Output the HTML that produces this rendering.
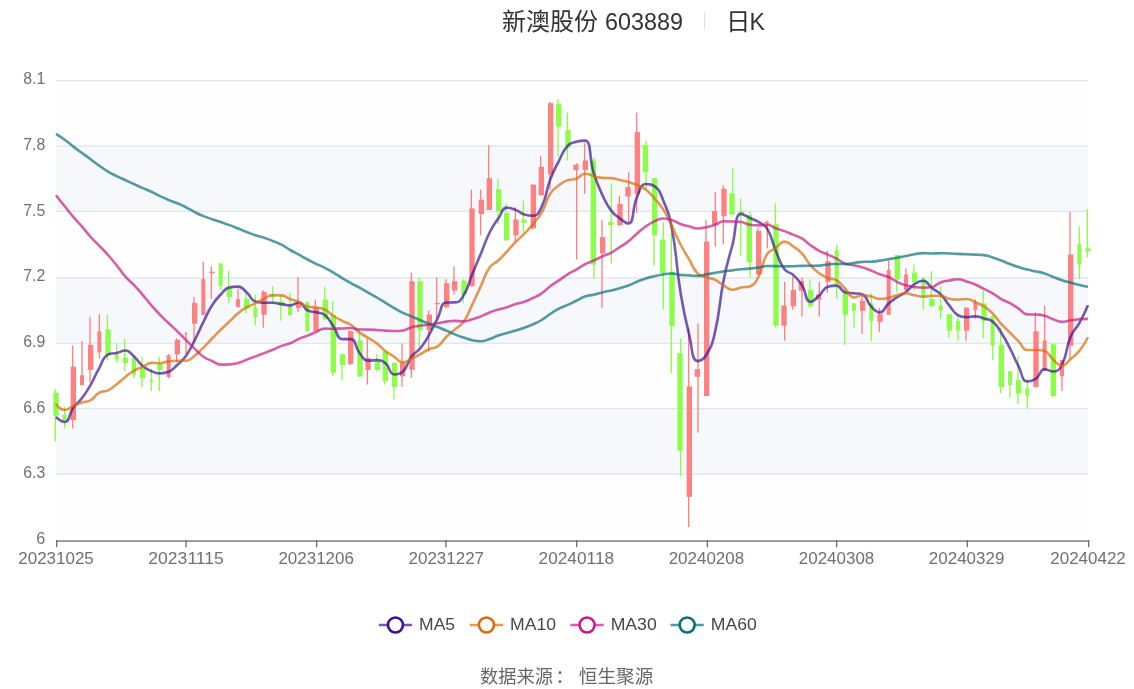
<!DOCTYPE html>
<html><head><meta charset="utf-8"><title>新澳股份 603889 日K</title>
<style>
html,body{margin:0;padding:0;background:#fff;}
body{width:1134px;height:689px;overflow:hidden;}
svg{display:block;will-change:transform;}
.ax{font-family:"Liberation Sans",Arial,sans-serif;font-size:16px;fill:#6e7079;}
.lg{font-family:"Liberation Sans",Arial,sans-serif;font-size:16.5px;fill:#464646;}
.tc{font-family:"Liberation Sans","Noto Sans CJK SC",sans-serif;font-size:24.4px;fill:#333;}
.td{font-family:"Liberation Sans",sans-serif;font-size:23.2px;fill:#333;}
.tt{font-family:"Liberation Sans","Noto Sans CJK SC",sans-serif;font-size:23px;fill:#333;}
.ft{font-family:"Liberation Sans","Noto Sans CJK SC",sans-serif;font-size:18px;fill:#666;}
</style></head><body>
<svg width="1134" height="689" viewBox="0 0 1134 689">
<rect width="1134" height="689" fill="#fff"/>
<rect x="56.000" y="474.286" width="1032.000" height="65.714" fill="rgba(250,250,250,0.2)"/>
<rect x="56.000" y="408.571" width="1032.000" height="65.714" fill="rgba(210,219,238,0.2)"/>
<rect x="56.000" y="342.857" width="1032.000" height="65.714" fill="rgba(250,250,250,0.2)"/>
<rect x="56.000" y="277.143" width="1032.000" height="65.714" fill="rgba(210,219,238,0.2)"/>
<rect x="56.000" y="211.429" width="1032.000" height="65.714" fill="rgba(250,250,250,0.2)"/>
<rect x="56.000" y="145.714" width="1032.000" height="65.714" fill="rgba(210,219,238,0.2)"/>
<rect x="56.000" y="80.000" width="1032.000" height="65.714" fill="rgba(250,250,250,0.2)"/>
<rect x="56.000" y="473.333" width="1032.000" height="1.333" fill="#e0e6f1"/>
<rect x="56.000" y="408.000" width="1032.000" height="1.333" fill="#e0e6f1"/>
<rect x="56.000" y="342.667" width="1032.000" height="1.333" fill="#e0e6f1"/>
<rect x="56.000" y="277.333" width="1032.000" height="1.333" fill="#e0e6f1"/>
<rect x="56.000" y="210.667" width="1032.000" height="1.333" fill="#e0e6f1"/>
<rect x="56.000" y="145.333" width="1032.000" height="1.333" fill="#e0e6f1"/>
<rect x="56.000" y="80.000" width="1032.000" height="1.333" fill="#e0e6f1"/>
<rect x="54.667" y="389.0" width="1.333" height="52.5" fill="#8cfe48"/>
<rect x="53.333" y="392.8" width="5.333" height="23.0" fill="#8cfe48"/>
<rect x="64.000" y="406.7" width="1.333" height="21.8" fill="#8cfe48"/>
<rect x="62.667" y="414.8" width="4.000" height="6.0" fill="#8cfe48"/>
<rect x="72.000" y="345.3" width="1.333" height="83.2" fill="#ff8080"/>
<rect x="70.667" y="366.7" width="5.333" height="53.5" fill="#ff8080"/>
<rect x="81.333" y="341.0" width="1.333" height="44.2" fill="#ff8080"/>
<rect x="80.000" y="375.2" width="4.000" height="10.0" fill="#ff8080"/>
<rect x="89.333" y="316.8" width="1.333" height="65.3" fill="#ff8080"/>
<rect x="88.000" y="344.8" width="5.333" height="25.0" fill="#ff8080"/>
<rect x="98.667" y="314.1" width="1.333" height="44.2" fill="#ff8080"/>
<rect x="97.333" y="331.4" width="4.000" height="20.8" fill="#ff8080"/>
<rect x="106.667" y="314.8" width="1.333" height="45.6" fill="#8cfe48"/>
<rect x="105.333" y="329.4" width="5.333" height="25.2" fill="#8cfe48"/>
<rect x="116.000" y="343.2" width="1.333" height="19.7" fill="#8cfe48"/>
<rect x="114.667" y="354.5" width="4.000" height="4.5" fill="#8cfe48"/>
<rect x="124.000" y="338.5" width="1.333" height="32.5" fill="#8cfe48"/>
<rect x="122.667" y="357.8" width="5.333" height="5.1" fill="#8cfe48"/>
<rect x="133.333" y="356.0" width="1.333" height="22.2" fill="#8cfe48"/>
<rect x="132.000" y="358.0" width="4.000" height="16.8" fill="#8cfe48"/>
<rect x="141.333" y="356.7" width="1.333" height="30.5" fill="#8cfe48"/>
<rect x="140.000" y="368.4" width="5.333" height="9.9" fill="#8cfe48"/>
<rect x="150.667" y="368.7" width="1.333" height="22.4" fill="#8cfe48"/>
<rect x="149.333" y="380.0" width="4.000" height="1.3" fill="#8cfe48"/>
<rect x="158.667" y="356.7" width="1.333" height="34.4" fill="#8cfe48"/>
<rect x="157.333" y="364.2" width="5.333" height="5.7" fill="#8cfe48"/>
<rect x="168.000" y="354.0" width="1.333" height="24.3" fill="#ff8080"/>
<rect x="166.667" y="355.2" width="4.000" height="21.8" fill="#ff8080"/>
<rect x="176.000" y="338.3" width="1.333" height="24.0" fill="#ff8080"/>
<rect x="174.667" y="339.8" width="5.333" height="14.6" fill="#ff8080"/>
<rect x="185.333" y="332.4" width="1.333" height="21.5" fill="#ff8080"/>
<rect x="184.800" y="332.6" width="2.4" height="1.6" fill="#ff8080"/>
<rect x="193.333" y="296.9" width="1.333" height="45.1" fill="#ff8080"/>
<rect x="192.000" y="302.9" width="5.333" height="20.8" fill="#ff8080"/>
<rect x="202.667" y="261.9" width="1.333" height="53.0" fill="#ff8080"/>
<rect x="201.333" y="279.0" width="4.000" height="35.9" fill="#ff8080"/>
<rect x="210.667" y="266.4" width="1.333" height="32.4" fill="#ff8080"/>
<rect x="209.333" y="271.7" width="5.333" height="1.5" fill="#ff8080"/>
<rect x="220.000" y="263.4" width="1.333" height="26.8" fill="#8cfe48"/>
<rect x="218.667" y="263.4" width="4.000" height="22.8" fill="#8cfe48"/>
<rect x="228.000" y="270.7" width="1.333" height="32.6" fill="#8cfe48"/>
<rect x="226.667" y="288.2" width="5.333" height="8.9" fill="#8cfe48"/>
<rect x="237.333" y="288.8" width="1.333" height="18.9" fill="#ff8080"/>
<rect x="236.000" y="299.0" width="4.000" height="8.0" fill="#ff8080"/>
<rect x="245.333" y="291.4" width="1.333" height="21.6" fill="#8cfe48"/>
<rect x="244.000" y="298.7" width="5.333" height="10.0" fill="#8cfe48"/>
<rect x="254.667" y="294.8" width="1.333" height="30.5" fill="#8cfe48"/>
<rect x="253.333" y="307.3" width="4.000" height="9.7" fill="#8cfe48"/>
<rect x="262.667" y="290.3" width="1.333" height="37.3" fill="#ff8080"/>
<rect x="261.333" y="291.8" width="5.333" height="23.0" fill="#ff8080"/>
<rect x="272.000" y="286.2" width="1.333" height="17.0" fill="#8cfe48"/>
<rect x="270.667" y="294.4" width="4.000" height="3.2" fill="#8cfe48"/>
<rect x="280.000" y="294.8" width="1.333" height="26.0" fill="#8cfe48"/>
<rect x="278.667" y="301.4" width="5.333" height="4.2" fill="#8cfe48"/>
<rect x="289.333" y="292.6" width="1.333" height="23.9" fill="#8cfe48"/>
<rect x="288.000" y="306.3" width="4.000" height="8.7" fill="#8cfe48"/>
<rect x="297.333" y="277.3" width="1.333" height="34.9" fill="#ff8080"/>
<rect x="296.000" y="302.5" width="5.333" height="5.4" fill="#ff8080"/>
<rect x="306.667" y="301.3" width="1.333" height="30.7" fill="#8cfe48"/>
<rect x="305.333" y="302.4" width="4.000" height="28.6" fill="#8cfe48"/>
<rect x="314.667" y="299.6" width="1.333" height="31.6" fill="#ff8080"/>
<rect x="313.333" y="307.6" width="5.333" height="23.6" fill="#ff8080"/>
<rect x="324.000" y="286.6" width="1.333" height="33.8" fill="#8cfe48"/>
<rect x="322.667" y="299.7" width="5.333" height="19.6" fill="#8cfe48"/>
<rect x="332.000" y="301.2" width="1.333" height="74.7" fill="#8cfe48"/>
<rect x="330.667" y="314.9" width="5.333" height="57.7" fill="#8cfe48"/>
<rect x="341.333" y="354.1" width="1.333" height="26.2" fill="#8cfe48"/>
<rect x="340.000" y="354.1" width="5.333" height="10.9" fill="#8cfe48"/>
<rect x="349.333" y="330.2" width="1.333" height="34.8" fill="#ff8080"/>
<rect x="348.000" y="331.3" width="5.333" height="32.6" fill="#ff8080"/>
<rect x="358.667" y="329.1" width="1.333" height="47.5" fill="#8cfe48"/>
<rect x="357.333" y="340.4" width="5.333" height="36.2" fill="#8cfe48"/>
<rect x="366.667" y="338.9" width="1.333" height="45.7" fill="#ff8080"/>
<rect x="365.333" y="357.8" width="5.333" height="12.2" fill="#ff8080"/>
<rect x="376.000" y="354.1" width="1.333" height="17.5" fill="#8cfe48"/>
<rect x="374.667" y="361.3" width="5.333" height="8.7" fill="#8cfe48"/>
<rect x="384.000" y="351.3" width="1.333" height="33.3" fill="#8cfe48"/>
<rect x="382.667" y="351.3" width="5.333" height="29.6" fill="#8cfe48"/>
<rect x="393.333" y="362.7" width="1.333" height="36.9" fill="#8cfe48"/>
<rect x="392.000" y="362.7" width="5.333" height="24.2" fill="#8cfe48"/>
<rect x="401.333" y="343.3" width="1.333" height="43.7" fill="#ff8080"/>
<rect x="400.000" y="362.6" width="5.333" height="13.7" fill="#ff8080"/>
<rect x="410.667" y="272.6" width="1.333" height="105.3" fill="#ff8080"/>
<rect x="409.333" y="281.3" width="5.333" height="88.5" fill="#ff8080"/>
<rect x="418.667" y="277.9" width="1.333" height="69.5" fill="#8cfe48"/>
<rect x="417.333" y="281.3" width="5.333" height="48.8" fill="#8cfe48"/>
<rect x="428.000" y="310.4" width="1.333" height="41.1" fill="#ff8080"/>
<rect x="426.667" y="314.5" width="5.333" height="15.6" fill="#ff8080"/>
<rect x="436.000" y="277.3" width="1.333" height="41.7" fill="#ff8080"/>
<rect x="434.667" y="303.0" width="5.333" height="1.3" fill="#ff8080"/>
<rect x="445.333" y="279.2" width="1.333" height="28.6" fill="#ff8080"/>
<rect x="444.000" y="283.3" width="5.333" height="23.9" fill="#ff8080"/>
<rect x="453.333" y="266.4" width="1.333" height="28.2" fill="#ff8080"/>
<rect x="452.000" y="281.2" width="5.333" height="9.3" fill="#ff8080"/>
<rect x="462.667" y="279.2" width="1.333" height="23.9" fill="#8cfe48"/>
<rect x="461.333" y="280.6" width="5.333" height="14.0" fill="#8cfe48"/>
<rect x="470.667" y="189.6" width="1.333" height="96.6" fill="#ff8080"/>
<rect x="469.333" y="208.5" width="5.333" height="77.7" fill="#ff8080"/>
<rect x="480.000" y="189.6" width="1.333" height="45.8" fill="#ff8080"/>
<rect x="478.667" y="199.8" width="5.333" height="14.2" fill="#ff8080"/>
<rect x="488.000" y="145.3" width="1.333" height="64.7" fill="#ff8080"/>
<rect x="486.667" y="178.2" width="5.333" height="31.8" fill="#ff8080"/>
<rect x="497.333" y="178.5" width="1.333" height="45.6" fill="#8cfe48"/>
<rect x="496.000" y="189.1" width="5.333" height="22.3" fill="#8cfe48"/>
<rect x="505.333" y="203.3" width="1.333" height="37.1" fill="#8cfe48"/>
<rect x="504.000" y="213.0" width="5.333" height="27.4" fill="#8cfe48"/>
<rect x="514.667" y="207.3" width="1.333" height="34.2" fill="#ff8080"/>
<rect x="513.333" y="219.5" width="5.333" height="15.9" fill="#ff8080"/>
<rect x="522.667" y="200.4" width="1.333" height="32.9" fill="#8cfe48"/>
<rect x="521.333" y="219.5" width="5.333" height="3.3" fill="#8cfe48"/>
<rect x="532.000" y="184.6" width="1.333" height="44.7" fill="#ff8080"/>
<rect x="530.667" y="184.6" width="5.333" height="43.7" fill="#ff8080"/>
<rect x="540.000" y="156.0" width="1.333" height="39.3" fill="#ff8080"/>
<rect x="538.667" y="166.8" width="5.333" height="28.5" fill="#ff8080"/>
<rect x="549.333" y="101.8" width="1.333" height="87.8" fill="#ff8080"/>
<rect x="548.000" y="103.2" width="5.333" height="71.1" fill="#ff8080"/>
<rect x="557.333" y="99.1" width="1.333" height="57.6" fill="#8cfe48"/>
<rect x="556.000" y="103.8" width="5.333" height="22.8" fill="#8cfe48"/>
<rect x="566.667" y="112.7" width="1.333" height="47.9" fill="#8cfe48"/>
<rect x="565.333" y="130.1" width="5.333" height="17.8" fill="#8cfe48"/>
<rect x="576.000" y="163.3" width="1.333" height="96.2" fill="#ff8080"/>
<rect x="573.333" y="164.6" width="5.333" height="5.5" fill="#ff8080"/>
<rect x="584.000" y="143.1" width="1.333" height="50.8" fill="#ff8080"/>
<rect x="582.667" y="160.6" width="5.333" height="9.5" fill="#ff8080"/>
<rect x="593.333" y="157.3" width="1.333" height="121.5" fill="#8cfe48"/>
<rect x="590.667" y="160.6" width="5.333" height="104.0" fill="#8cfe48"/>
<rect x="601.333" y="220.0" width="1.333" height="88.3" fill="#ff8080"/>
<rect x="600.000" y="237.1" width="5.333" height="16.3" fill="#ff8080"/>
<rect x="610.667" y="183.3" width="1.333" height="80.2" fill="#8cfe48"/>
<rect x="608.000" y="222.0" width="5.333" height="3.0" fill="#8cfe48"/>
<rect x="618.667" y="196.0" width="1.333" height="30.0" fill="#ff8080"/>
<rect x="617.333" y="204.0" width="5.333" height="21.0" fill="#ff8080"/>
<rect x="628.000" y="172.2" width="1.333" height="50.8" fill="#ff8080"/>
<rect x="625.333" y="187.0" width="5.333" height="9.5" fill="#ff8080"/>
<rect x="636.000" y="112.6" width="1.333" height="100.2" fill="#ff8080"/>
<rect x="634.667" y="132.1" width="5.333" height="61.8" fill="#ff8080"/>
<rect x="645.333" y="141.0" width="1.333" height="48.4" fill="#8cfe48"/>
<rect x="642.667" y="145.1" width="5.333" height="27.1" fill="#8cfe48"/>
<rect x="653.333" y="178.1" width="1.333" height="87.4" fill="#8cfe48"/>
<rect x="652.000" y="178.1" width="5.333" height="57.3" fill="#8cfe48"/>
<rect x="662.667" y="222.4" width="1.333" height="87.2" fill="#8cfe48"/>
<rect x="660.000" y="239.5" width="5.333" height="33.8" fill="#8cfe48"/>
<rect x="670.667" y="233.0" width="1.333" height="140.2" fill="#8cfe48"/>
<rect x="669.333" y="271.6" width="5.333" height="54.4" fill="#8cfe48"/>
<rect x="680.000" y="338.6" width="1.333" height="137.8" fill="#8cfe48"/>
<rect x="677.333" y="353.3" width="5.333" height="97.3" fill="#8cfe48"/>
<rect x="688.000" y="328.5" width="1.333" height="198.5" fill="#ff8080"/>
<rect x="686.667" y="386.4" width="5.333" height="110.4" fill="#ff8080"/>
<rect x="697.333" y="323.4" width="1.333" height="109.4" fill="#ff8080"/>
<rect x="694.667" y="369.1" width="5.333" height="7.7" fill="#ff8080"/>
<rect x="705.333" y="220.0" width="1.333" height="176.0" fill="#ff8080"/>
<rect x="704.000" y="241.7" width="5.333" height="154.3" fill="#ff8080"/>
<rect x="714.667" y="191.8" width="1.333" height="54.8" fill="#ff8080"/>
<rect x="712.000" y="211.0" width="5.333" height="13.5" fill="#ff8080"/>
<rect x="722.667" y="185.4" width="1.333" height="58.9" fill="#ff8080"/>
<rect x="721.333" y="188.8" width="5.333" height="27.4" fill="#ff8080"/>
<rect x="732.000" y="167.9" width="1.333" height="46.6" fill="#8cfe48"/>
<rect x="729.333" y="193.2" width="5.333" height="21.3" fill="#8cfe48"/>
<rect x="740.000" y="198.4" width="1.333" height="57.1" fill="#8cfe48"/>
<rect x="738.667" y="211.0" width="5.333" height="2.5" fill="#8cfe48"/>
<rect x="749.333" y="211.2" width="1.333" height="66.2" fill="#8cfe48"/>
<rect x="746.667" y="215.0" width="5.333" height="47.3" fill="#8cfe48"/>
<rect x="757.333" y="228.0" width="1.333" height="46.5" fill="#ff8080"/>
<rect x="756.000" y="230.8" width="5.333" height="43.7" fill="#ff8080"/>
<rect x="766.667" y="220.5" width="1.333" height="27.9" fill="#ff8080"/>
<rect x="764.000" y="222.0" width="5.333" height="1.4" fill="#ff8080"/>
<rect x="774.667" y="203.3" width="1.333" height="124.2" fill="#8cfe48"/>
<rect x="773.333" y="224.2" width="5.333" height="101.5" fill="#8cfe48"/>
<rect x="784.000" y="281.6" width="1.333" height="59.2" fill="#ff8080"/>
<rect x="781.333" y="305.5" width="5.333" height="20.2" fill="#ff8080"/>
<rect x="792.000" y="276.4" width="1.333" height="33.4" fill="#ff8080"/>
<rect x="790.667" y="290.0" width="5.333" height="16.2" fill="#ff8080"/>
<rect x="801.333" y="277.4" width="1.333" height="39.2" fill="#ff8080"/>
<rect x="798.667" y="281.1" width="5.333" height="9.6" fill="#ff8080"/>
<rect x="809.333" y="279.4" width="1.333" height="28.4" fill="#8cfe48"/>
<rect x="808.000" y="289.9" width="5.333" height="16.4" fill="#8cfe48"/>
<rect x="818.667" y="281.6" width="1.333" height="34.9" fill="#ff8080"/>
<rect x="816.000" y="294.6" width="5.333" height="5.1" fill="#ff8080"/>
<rect x="826.667" y="251.0" width="1.333" height="41.5" fill="#ff8080"/>
<rect x="825.333" y="261.3" width="5.333" height="20.5" fill="#ff8080"/>
<rect x="836.000" y="244.6" width="1.333" height="54.2" fill="#8cfe48"/>
<rect x="834.667" y="250.2" width="4.000" height="34.6" fill="#8cfe48"/>
<rect x="844.000" y="287.7" width="1.333" height="57.3" fill="#8cfe48"/>
<rect x="842.667" y="292.3" width="5.333" height="22.5" fill="#8cfe48"/>
<rect x="853.333" y="303.3" width="1.333" height="24.3" fill="#8cfe48"/>
<rect x="852.000" y="303.3" width="4.000" height="7.5" fill="#8cfe48"/>
<rect x="861.333" y="295.8" width="1.333" height="38.2" fill="#ff8080"/>
<rect x="860.000" y="300.7" width="5.333" height="10.1" fill="#ff8080"/>
<rect x="870.667" y="292.8" width="1.333" height="48.2" fill="#8cfe48"/>
<rect x="869.333" y="303.3" width="4.000" height="18.2" fill="#8cfe48"/>
<rect x="878.667" y="308.0" width="1.333" height="24.0" fill="#ff8080"/>
<rect x="877.333" y="314.2" width="5.333" height="7.6" fill="#ff8080"/>
<rect x="888.000" y="260.6" width="1.333" height="54.2" fill="#ff8080"/>
<rect x="886.667" y="270.1" width="4.000" height="44.7" fill="#ff8080"/>
<rect x="896.000" y="255.0" width="1.333" height="37.5" fill="#8cfe48"/>
<rect x="894.667" y="255.0" width="5.333" height="24.7" fill="#8cfe48"/>
<rect x="905.333" y="268.5" width="1.333" height="21.6" fill="#ff8080"/>
<rect x="904.000" y="274.6" width="4.000" height="15.5" fill="#ff8080"/>
<rect x="913.333" y="264.6" width="1.333" height="25.5" fill="#8cfe48"/>
<rect x="912.000" y="272.5" width="5.333" height="9.6" fill="#8cfe48"/>
<rect x="922.667" y="277.7" width="1.333" height="32.1" fill="#8cfe48"/>
<rect x="921.333" y="277.7" width="4.000" height="19.7" fill="#8cfe48"/>
<rect x="930.667" y="271.0" width="1.333" height="36.6" fill="#8cfe48"/>
<rect x="929.333" y="298.9" width="5.333" height="7.3" fill="#8cfe48"/>
<rect x="940.000" y="286.3" width="1.333" height="32.5" fill="#8cfe48"/>
<rect x="938.667" y="305.6" width="4.000" height="5.1" fill="#8cfe48"/>
<rect x="948.000" y="314.3" width="1.333" height="23.8" fill="#8cfe48"/>
<rect x="946.667" y="314.3" width="5.333" height="16.3" fill="#8cfe48"/>
<rect x="957.333" y="315.7" width="1.333" height="25.0" fill="#8cfe48"/>
<rect x="956.000" y="320.8" width="4.000" height="9.8" fill="#8cfe48"/>
<rect x="965.333" y="307.6" width="1.333" height="33.1" fill="#ff8080"/>
<rect x="964.000" y="307.6" width="5.333" height="23.0" fill="#ff8080"/>
<rect x="974.667" y="299.5" width="1.333" height="19.3" fill="#ff8080"/>
<rect x="973.333" y="302.5" width="4.000" height="7.7" fill="#ff8080"/>
<rect x="982.667" y="290.3" width="1.333" height="47.8" fill="#8cfe48"/>
<rect x="981.333" y="303.5" width="5.333" height="17.3" fill="#8cfe48"/>
<rect x="992.000" y="314.7" width="1.333" height="45.7" fill="#8cfe48"/>
<rect x="990.667" y="315.7" width="4.000" height="29.9" fill="#8cfe48"/>
<rect x="1000.000" y="327.7" width="1.333" height="65.5" fill="#8cfe48"/>
<rect x="998.667" y="344.8" width="5.333" height="42.3" fill="#8cfe48"/>
<rect x="1009.333" y="371.3" width="1.333" height="26.3" fill="#8cfe48"/>
<rect x="1008.000" y="371.3" width="4.000" height="13.8" fill="#8cfe48"/>
<rect x="1017.333" y="356.2" width="1.333" height="47.9" fill="#8cfe48"/>
<rect x="1016.000" y="380.2" width="5.333" height="13.5" fill="#8cfe48"/>
<rect x="1026.667" y="378.9" width="1.333" height="29.6" fill="#8cfe48"/>
<rect x="1025.333" y="388.4" width="4.000" height="7.5" fill="#8cfe48"/>
<rect x="1034.667" y="312.4" width="1.333" height="74.8" fill="#ff8080"/>
<rect x="1033.333" y="331.3" width="5.333" height="55.9" fill="#ff8080"/>
<rect x="1044.000" y="305.7" width="1.333" height="65.3" fill="#ff8080"/>
<rect x="1042.667" y="340.5" width="4.000" height="30.5" fill="#ff8080"/>
<rect x="1052.000" y="343.1" width="1.333" height="54.0" fill="#8cfe48"/>
<rect x="1050.667" y="344.4" width="5.333" height="51.5" fill="#8cfe48"/>
<rect x="1061.333" y="360.0" width="1.333" height="31.0" fill="#ff8080"/>
<rect x="1060.000" y="360.0" width="4.000" height="16.2" fill="#ff8080"/>
<rect x="1069.333" y="211.8" width="1.333" height="147.0" fill="#ff8080"/>
<rect x="1068.000" y="254.5" width="5.333" height="91.2" fill="#ff8080"/>
<rect x="1078.667" y="226.8" width="1.333" height="52.1" fill="#8cfe48"/>
<rect x="1077.333" y="243.7" width="4.000" height="20.9" fill="#8cfe48"/>
<rect x="1086.667" y="209.1" width="1.333" height="48.2" fill="#8cfe48"/>
<rect x="1085.333" y="248.4" width="5.333" height="2.8" fill="#8cfe48"/>
<path d="M56.00,417.00C56.00,417.00 61.41,422.00 64.67,422.00C70.09,422.00 68.49,414.52 73.34,407.80C77.16,402.52 78.10,403.22 82.02,398.00C86.78,391.65 86.73,391.55 90.69,384.66C95.41,376.44 94.63,375.99 99.36,367.78C103.31,360.93 102.46,357.31 108.03,354.54C111.13,353.00 112.42,353.99 116.71,353.00C121.09,351.99 121.38,350.54 125.38,350.54C130.05,350.54 130.13,353.06 134.05,356.54C138.80,360.75 137.89,361.84 142.72,365.92C146.56,369.16 146.79,369.20 151.39,371.18C155.46,372.92 155.70,373.36 160.07,373.36C164.37,373.36 164.91,373.36 168.74,371.82C173.58,369.87 173.34,368.61 177.41,364.82C182.01,360.54 182.50,360.80 186.08,355.68C191.17,348.43 190.68,348.02 194.76,340.08C199.35,331.13 198.94,330.92 203.43,321.90C207.62,313.48 207.10,313.11 212.10,305.20C215.77,299.40 215.99,299.39 220.77,294.48C224.66,290.48 224.56,288.38 229.45,287.38C233.24,286.60 234.19,286.60 238.12,286.60C242.86,286.60 242.84,289.12 246.79,292.54C251.51,296.62 250.35,299.99 255.46,301.60C259.02,302.72 259.78,302.62 264.13,302.72C268.45,302.82 268.50,302.72 272.81,302.82C277.17,302.92 277.14,303.49 281.48,304.14C285.81,304.78 285.91,305.40 290.15,305.40C294.58,305.40 295.02,302.50 298.82,302.50C303.69,302.50 302.57,307.71 307.50,310.34C311.24,312.34 311.88,311.17 316.17,312.34C320.55,313.54 321.49,312.34 324.84,315.08C330.16,319.42 329.29,320.76 333.51,326.60C337.96,332.77 336.66,338.99 342.18,339.10C345.33,339.16 347.85,339.10 350.86,339.16C356.52,339.27 354.46,346.68 359.53,352.96C363.13,357.43 363.24,360.66 368.20,360.66C371.92,360.66 372.67,360.14 376.87,360.14C381.34,360.14 382.11,360.49 385.55,363.32C390.79,367.64 388.95,374.44 394.22,374.44C397.62,374.44 399.93,374.44 402.89,371.64C408.60,366.24 406.37,363.31 411.56,356.34C415.04,351.67 416.54,352.89 420.24,348.36C425.21,342.26 424.95,341.94 428.91,335.08C433.62,326.91 433.15,326.64 437.58,318.30C441.82,310.32 440.39,302.48 446.25,302.44C449.06,302.42 451.14,302.44 454.92,302.42C459.81,302.39 460.75,299.97 463.60,295.32C469.42,285.82 467.88,284.70 472.27,274.12C476.56,263.78 476.64,263.81 480.94,253.48C485.31,242.98 484.58,242.61 489.61,232.46C493.25,225.12 493.58,225.22 498.29,218.50C502.26,212.82 501.68,207.66 506.96,207.66C510.36,207.66 511.50,208.24 515.63,209.86C520.17,211.64 519.72,213.03 524.30,214.46C528.39,215.74 529.39,215.74 532.97,215.74C538.06,215.74 539.03,212.31 541.65,206.82C547.70,194.13 545.26,192.82 550.32,179.38C553.93,169.81 554.29,169.90 558.99,160.80C562.96,153.12 562.08,151.94 567.66,145.82C570.75,142.45 571.81,143.17 576.34,141.82C580.49,140.58 583.21,140.58 585.01,140.58C591.88,140.58 588.61,156.96 593.68,172.86C597.28,184.15 597.38,184.21 602.35,194.96C606.06,202.97 605.81,203.37 611.03,210.38C614.48,215.02 615.05,214.73 619.70,218.26C623.72,221.31 626.05,223.54 628.37,223.54C634.73,223.54 631.48,209.69 637.04,197.04C640.15,189.95 640.20,184.06 645.71,184.06C648.87,184.06 651.33,184.06 654.39,186.14C660.00,189.95 659.94,192.51 663.06,200.00C668.61,213.34 669.03,213.54 671.73,227.80C677.70,259.29 675.24,259.79 680.40,291.50C683.91,313.06 683.80,313.17 689.08,334.34C692.47,347.96 691.47,361.08 697.75,361.08C700.14,361.08 703.78,359.22 706.42,354.76C712.46,344.56 712.35,343.69 715.09,331.76C721.02,306.01 718.57,305.40 723.76,279.40C727.24,262.03 727.90,262.16 732.44,245.02C736.57,229.41 734.42,213.90 741.11,213.90C743.10,213.90 745.43,215.99 749.78,218.02C754.10,220.03 754.41,219.51 758.45,221.98C763.08,224.81 764.40,224.09 767.13,228.62C773.08,238.53 771.12,239.89 775.80,250.86C779.79,260.21 778.71,261.31 784.47,269.26C787.38,273.28 789.36,271.39 793.14,274.80C798.03,279.19 798.24,279.32 801.82,284.86C806.91,292.78 804.94,301.72 810.49,301.72C813.61,301.72 815.15,298.99 819.16,295.50C823.82,291.46 822.75,288.13 827.83,286.66C831.42,285.62 832.66,285.62 836.50,285.62C841.33,285.62 840.34,291.23 845.18,292.36C849.01,293.26 849.52,292.73 853.85,293.26C858.19,293.79 859.30,293.26 862.52,294.48C867.97,296.55 866.11,301.27 871.19,306.52C874.78,310.23 875.90,312.40 879.87,312.40C884.58,312.40 883.87,307.54 888.54,303.46C892.54,299.96 892.76,300.18 897.21,297.24C901.43,294.46 901.86,295.06 905.88,292.02C910.54,288.51 909.72,287.27 914.55,284.14C918.39,281.65 919.31,280.78 923.23,280.78C927.98,280.78 927.44,284.55 931.90,288.00C936.11,291.26 936.85,290.46 940.57,294.20C945.52,299.16 944.72,299.95 949.24,305.40C953.40,310.40 952.77,312.12 957.92,315.10C961.44,317.14 962.20,317.14 966.59,317.14C970.87,317.14 970.97,316.40 975.26,316.40C979.65,316.40 979.66,317.18 983.93,318.42C988.33,319.69 989.21,318.62 992.61,321.42C997.88,325.77 997.42,326.76 1001.28,332.72C1006.09,340.16 1005.89,340.33 1009.95,348.22C1014.56,357.20 1013.96,357.51 1018.62,366.46C1022.63,374.14 1021.61,381.48 1027.29,381.48C1030.29,381.48 1032.34,381.16 1035.97,378.62C1041.02,375.07 1039.54,369.30 1044.64,369.30C1048.22,369.30 1049.42,371.46 1053.31,371.46C1058.09,371.46 1059.63,369.46 1061.98,364.72C1068.31,351.95 1065.02,349.97 1070.66,336.44C1073.69,329.16 1075.47,330.04 1079.33,323.10C1084.14,314.44 1088.00,305.24 1088.00,305.24" fill="none" stroke="#3c1196" stroke-opacity="0.7" stroke-width="2.6" stroke-linejoin="round"/>
<path d="M56.00,404.00C56.00,404.00 60.13,410.00 64.67,410.00C68.80,410.00 68.94,407.80 73.34,405.90C77.62,404.05 77.60,403.95 82.02,402.50C86.27,401.10 86.89,402.37 90.69,400.20C95.57,397.42 94.48,395.38 99.36,392.60C103.16,390.43 104.06,392.23 108.03,390.30C112.73,388.03 112.50,387.42 116.71,384.20C121.17,380.77 120.94,380.48 125.38,377.00C129.62,373.68 129.43,373.30 134.05,370.60C138.10,368.23 138.41,368.78 142.72,366.85C147.08,364.91 146.85,362.86 151.39,362.86C155.52,362.86 155.79,363.18 160.07,363.18C164.46,363.18 164.35,361.69 168.74,361.18C173.02,360.68 173.07,360.68 177.41,360.68C181.74,360.68 182.08,360.80 186.08,360.80C190.75,360.80 190.76,358.67 194.76,355.63C199.43,352.08 199.23,351.77 203.43,347.63C207.90,343.21 207.73,343.04 212.10,338.51C216.40,334.05 216.34,333.99 220.77,329.65C225.02,325.50 225.12,325.60 229.45,321.53C233.79,317.44 233.53,317.13 238.12,313.34C242.20,309.97 242.21,309.85 246.79,307.22C250.88,304.88 251.22,305.51 255.46,303.40C259.90,301.20 259.67,300.74 264.13,298.60C268.34,296.59 268.31,295.10 272.81,295.10C276.98,295.10 277.31,295.10 281.48,295.37C285.99,295.66 285.77,297.28 290.15,298.97C294.44,300.62 294.62,300.22 298.82,302.05C303.29,304.00 302.92,305.36 307.50,306.53C311.59,307.58 311.87,306.82 316.17,307.58C320.55,308.36 320.92,307.70 324.84,309.61C329.59,311.91 329.00,313.09 333.51,316.00C337.67,318.68 337.76,318.57 342.18,320.80C346.44,322.94 346.97,322.09 350.86,324.75C355.64,328.02 354.87,329.13 359.53,332.65C363.55,335.69 363.90,335.21 368.20,337.87C372.57,340.57 372.82,340.25 376.87,343.37C381.49,346.92 380.94,347.64 385.55,351.21C389.61,354.36 389.87,354.02 394.22,356.80C398.54,359.57 398.38,362.30 402.89,362.30C407.05,362.30 407.27,360.49 411.56,358.50C415.94,356.47 415.98,356.53 420.24,354.25C424.65,351.88 424.36,351.26 428.91,349.20C433.04,347.32 433.96,348.91 437.58,346.37C442.63,342.83 441.71,341.49 446.25,337.04C450.38,333.00 450.57,333.19 454.92,329.38C459.25,325.59 460.36,326.46 463.60,321.84C469.03,314.07 468.08,313.29 472.27,304.60C476.75,295.31 476.58,295.23 480.94,285.89C485.25,276.66 484.01,275.67 489.61,267.45C492.68,262.96 494.20,264.22 498.29,260.46C502.87,256.24 502.69,256.04 506.96,251.49C511.36,246.80 511.11,246.56 515.63,241.99C519.78,237.80 520.20,238.20 524.30,233.97C528.87,229.26 528.83,229.19 532.97,224.10C537.50,218.54 538.13,218.87 541.65,212.66C546.80,203.58 544.79,202.24 550.32,193.52C553.46,188.57 554.30,188.95 558.99,185.33C562.97,182.26 563.02,181.71 567.66,180.14C571.69,178.78 572.29,180.14 576.34,178.78C580.97,177.22 580.43,173.70 585.01,173.70C589.11,173.70 589.31,175.07 593.68,176.12C597.98,177.16 597.97,177.66 602.35,177.88C606.65,178.10 606.74,177.88 611.03,178.10C615.41,178.33 615.37,179.05 619.70,180.04C624.04,181.03 624.09,180.85 628.37,182.06C632.76,183.30 632.86,183.15 637.04,184.95C641.53,186.88 641.87,186.56 645.71,189.51C650.54,193.22 650.31,193.65 654.39,198.26C658.98,203.46 659.36,203.28 663.06,209.13C668.03,216.99 667.60,217.30 671.73,225.67C676.27,234.87 675.69,235.17 680.40,244.27C684.37,251.93 684.68,251.77 689.08,259.20C693.35,266.44 692.20,267.79 697.75,273.61C700.87,276.88 701.98,275.80 706.42,277.38C710.65,278.88 711.06,277.90 715.09,279.78C719.73,281.94 719.27,282.89 723.76,285.45C727.95,287.84 727.94,289.68 732.44,289.68C736.61,289.68 736.72,288.32 741.11,287.49C745.40,286.68 746.27,287.49 749.78,286.39C754.95,284.77 755.46,282.46 758.45,276.87C764.13,266.27 761.07,264.10 767.13,254.01C769.75,249.64 771.50,251.02 775.80,247.94C780.17,244.81 779.96,241.58 784.47,241.58C788.63,241.58 789.06,243.62 793.14,246.41C797.73,249.54 798.06,249.36 801.82,253.42C806.73,258.74 805.69,259.71 810.49,265.17C814.36,269.59 814.44,269.70 819.16,273.18C823.12,276.10 823.28,276.11 827.83,277.96C831.95,279.63 832.81,277.96 836.50,280.21C841.48,283.24 840.90,284.35 845.18,288.61C849.57,292.99 848.83,297.49 853.85,297.49C857.50,297.49 858.13,294.99 862.52,294.99C866.81,294.99 866.90,295.60 871.19,296.59C875.57,297.61 875.47,299.01 879.87,299.01C884.14,299.01 884.28,298.83 888.54,297.91C892.95,296.95 892.83,296.43 897.21,295.25C901.50,294.10 901.55,293.25 905.88,293.25C910.22,293.25 910.18,294.49 914.55,295.33C918.85,296.16 918.88,296.59 923.23,296.59C927.55,296.59 927.55,295.74 931.90,295.73C936.22,295.72 936.36,295.72 940.57,295.72C945.03,295.72 944.80,297.75 949.24,298.71C953.47,299.62 953.57,299.62 957.92,299.62C962.25,299.62 962.39,298.96 966.59,298.96C971.06,298.96 971.00,300.40 975.26,302.20C979.67,304.07 979.93,303.72 983.93,306.31C988.60,309.33 988.69,309.44 992.61,313.41C997.36,318.24 996.73,318.85 1001.28,323.91C1005.40,328.49 1005.61,328.30 1009.95,332.68C1014.28,337.06 1014.26,337.08 1018.62,341.43C1022.93,345.72 1022.23,349.85 1027.29,349.95C1030.90,350.02 1031.64,349.95 1035.97,350.02C1040.32,350.09 1041.05,350.02 1044.64,351.01C1049.72,352.41 1048.60,355.88 1053.31,359.84C1057.27,363.17 1057.75,365.59 1061.98,365.59C1066.42,365.59 1066.50,362.49 1070.66,358.96C1075.17,355.12 1075.65,355.46 1079.33,350.86C1084.32,344.61 1088.00,337.27 1088.00,337.27" fill="none" stroke="#d86c0b" stroke-opacity="0.7" stroke-width="2.6" stroke-linejoin="round"/>
<path d="M56.00,195.20C56.00,195.20 60.28,200.80 64.67,206.30C68.95,211.65 68.90,211.70 73.34,216.90C77.57,221.85 77.77,221.68 82.02,226.60C86.44,231.73 86.15,231.98 90.69,237.00C94.83,241.58 95.08,241.35 99.36,245.80C103.75,250.35 103.85,250.27 108.03,255.00C112.52,260.07 112.48,260.11 116.71,265.40C121.15,270.96 120.70,271.36 125.38,276.70C129.37,281.26 129.85,280.82 134.05,285.20C138.52,289.87 138.51,289.89 142.72,294.80C147.18,299.99 146.91,300.23 151.39,305.40C155.58,310.23 155.62,310.21 160.07,314.80C164.29,319.16 164.35,319.10 168.74,323.30C173.03,327.40 173.15,327.27 177.41,331.40C181.82,335.67 181.76,335.74 186.08,340.10C190.43,344.49 190.30,344.63 194.76,348.90C198.97,352.93 198.69,353.39 203.43,356.70C207.36,359.44 207.70,358.99 212.10,361.00C216.37,362.94 216.27,364.60 220.77,364.60C224.94,364.60 225.14,364.60 229.45,364.40C233.81,364.20 233.90,364.07 238.12,362.90C242.57,361.67 242.45,361.23 246.79,359.60C251.12,357.98 251.13,358.02 255.46,356.40C259.81,354.77 259.80,354.75 264.13,353.10C268.47,351.45 268.52,351.58 272.81,349.80C277.20,347.98 277.04,347.56 281.48,345.90C285.71,344.31 285.97,344.99 290.15,343.30C294.64,341.49 294.39,340.87 298.82,338.90C303.06,337.02 303.19,337.31 307.50,335.59C311.86,333.85 311.81,333.74 316.17,331.99C320.48,330.25 320.35,328.60 324.84,328.60C329.02,328.60 329.18,328.80 333.51,328.80C337.85,328.80 337.85,328.66 342.18,328.46C346.52,328.26 346.55,328.01 350.86,328.01C355.22,328.01 355.16,329.41 359.53,329.52C363.83,329.62 363.87,329.52 368.20,329.62C372.54,329.73 372.54,329.75 376.87,329.99C381.21,330.23 381.21,330.34 385.55,330.59C389.88,330.84 389.88,330.99 394.22,330.99C398.56,330.99 398.70,330.99 402.89,330.47C407.37,329.91 407.10,328.34 411.56,327.15C415.78,326.02 415.90,326.49 420.24,325.82C424.57,325.15 424.57,325.11 428.91,324.47C433.24,323.82 433.26,323.95 437.58,323.24C441.93,322.52 441.89,322.19 446.25,321.60C450.56,321.01 450.58,320.87 454.92,320.87C459.26,320.87 459.32,321.39 463.60,321.39C467.99,321.39 467.98,320.52 472.27,319.29C476.66,318.03 476.70,318.08 480.94,316.41C485.37,314.66 485.19,314.20 489.61,312.44C493.86,310.76 493.91,310.84 498.29,309.52C502.58,308.24 502.69,308.61 506.96,307.25C511.36,305.84 511.23,305.41 515.63,304.00C519.90,302.63 520.08,303.17 524.30,301.70C528.75,300.14 528.72,299.99 532.97,297.93C537.40,295.79 537.59,296.04 541.65,293.30C546.26,290.19 545.84,289.58 550.32,286.24C554.51,283.12 554.68,283.35 558.99,280.38C563.36,277.37 563.18,277.09 567.66,274.28C571.85,271.65 572.06,271.99 576.34,269.51C580.73,266.96 580.50,266.53 585.01,264.22C589.17,262.08 589.41,262.56 593.68,260.62C598.08,258.63 597.95,258.34 602.35,256.36C606.62,254.44 606.92,255.02 611.03,252.81C615.59,250.37 615.35,249.93 619.70,247.06C624.03,244.20 624.30,244.56 628.37,241.37C632.98,237.75 632.59,237.26 637.04,233.44C641.26,229.82 641.16,229.64 645.71,226.48C649.83,223.63 649.85,223.53 654.39,221.43C658.53,219.51 658.63,218.45 663.06,218.45C667.31,218.45 667.57,218.62 671.73,219.94C676.25,221.38 675.94,222.31 680.40,223.96C684.61,225.51 684.73,225.20 689.08,226.36C693.40,227.50 693.37,228.56 697.75,228.56C702.04,228.56 702.13,228.09 706.42,227.17C710.81,226.23 710.85,226.27 715.09,224.83C719.52,223.34 719.26,221.31 723.76,221.31C727.94,221.31 728.10,221.34 732.44,221.51C736.78,221.67 736.88,221.51 741.11,221.96C745.55,222.44 745.34,224.09 749.78,224.77C754.02,225.41 754.12,225.41 758.45,225.41C762.79,225.41 762.95,224.80 767.13,224.80C771.62,224.80 771.40,226.74 775.80,228.34C780.07,229.89 780.19,229.55 784.47,231.10C788.87,232.69 788.83,232.79 793.14,234.61C797.51,236.45 797.80,235.97 801.82,238.42C806.48,241.26 806.01,242.00 810.49,245.19C814.69,248.18 814.63,248.34 819.16,250.79C823.31,253.03 823.52,252.63 827.83,254.57C832.19,256.53 832.28,256.35 836.50,258.58C840.96,260.92 840.55,261.95 845.18,263.72C849.22,265.26 849.54,264.35 853.85,265.26C858.21,266.18 858.26,266.07 862.52,267.38C866.93,268.73 866.90,268.89 871.19,270.59C875.57,272.33 875.46,272.63 879.87,274.27C884.13,275.85 884.40,275.20 888.54,277.04C893.07,279.05 892.73,279.80 897.21,281.96C901.40,283.97 901.42,284.09 905.88,285.37C910.10,286.58 910.19,286.33 914.55,286.93C918.87,287.51 918.89,287.73 923.23,287.73C927.56,287.73 927.83,287.73 931.90,287.07C936.50,286.32 936.01,284.12 940.57,282.41C944.68,280.86 944.88,281.34 949.24,280.55C953.55,279.77 953.62,279.26 957.92,279.26C962.30,279.26 962.31,280.17 966.59,281.46C970.98,282.79 971.05,282.70 975.26,284.51C979.72,286.42 979.59,286.72 983.93,288.91C988.27,291.10 988.42,290.83 992.61,293.28C997.10,295.91 996.76,296.49 1001.28,299.07C1005.43,301.43 1005.75,300.86 1009.95,303.16C1014.43,305.62 1014.33,305.81 1018.62,308.59C1023.00,311.42 1022.56,314.16 1027.29,314.39C1031.23,314.57 1031.65,314.39 1035.97,314.57C1040.32,314.76 1040.45,314.61 1044.64,315.74C1049.12,316.95 1048.90,317.70 1053.31,319.27C1057.58,320.78 1057.59,321.90 1061.98,321.90C1066.27,321.90 1066.29,320.86 1070.66,320.17C1074.96,319.50 1074.98,319.51 1079.33,319.17C1083.65,318.84 1088.00,318.84 1088.00,318.84" fill="none" stroke="#c61b84" stroke-opacity="0.7" stroke-width="2.6" stroke-linejoin="round"/>
<path d="M56.00,133.80C56.00,133.80 60.46,136.59 64.67,139.70C69.13,142.99 68.95,143.23 73.34,146.60C77.62,149.88 77.67,149.82 82.02,153.00C86.34,156.17 86.36,156.13 90.69,159.30C95.04,162.48 94.97,162.58 99.36,165.70C103.64,168.73 103.54,168.91 108.03,171.60C112.22,174.11 112.32,173.95 116.71,176.10C120.99,178.20 121.04,178.10 125.38,180.10C129.71,182.10 129.71,182.10 134.05,184.10C138.39,186.10 138.36,186.16 142.72,188.10C147.03,190.01 147.12,189.83 151.39,191.80C155.79,193.83 155.70,194.01 160.07,196.10C164.37,198.16 164.33,198.27 168.74,200.10C173.00,201.87 173.15,201.53 177.41,203.30C181.82,205.13 181.83,205.14 186.08,207.30C190.50,209.54 190.34,209.86 194.76,212.10C199.01,214.26 199.01,214.29 203.43,216.10C207.69,217.84 207.75,217.69 212.10,219.20C216.42,220.69 216.44,220.63 220.77,222.10C225.12,223.58 225.14,223.51 229.45,225.10C233.81,226.71 233.79,226.78 238.12,228.50C242.46,230.23 242.43,230.32 246.79,232.00C251.10,233.67 251.08,233.73 255.46,235.20C259.75,236.63 259.84,236.37 264.13,237.80C268.52,239.27 268.51,239.29 272.81,241.00C277.19,242.74 277.31,242.53 281.48,244.70C285.98,247.03 285.75,247.46 290.15,250.00C294.42,252.46 294.50,252.33 298.82,254.70C303.17,257.08 303.11,257.20 307.50,259.50C311.78,261.75 311.80,261.71 316.17,263.80C320.48,265.86 320.58,265.64 324.84,267.80C329.26,270.04 329.25,270.07 333.51,272.60C337.93,275.22 337.79,275.44 342.18,278.10C346.47,280.69 346.48,280.68 350.86,283.10C355.15,285.48 355.22,285.34 359.53,287.70C363.90,290.09 363.87,290.15 368.20,292.60C372.54,295.05 372.58,294.98 376.87,297.50C381.25,300.08 381.22,300.13 385.55,302.80C389.89,305.48 389.80,305.65 394.22,308.20C398.47,310.65 398.46,310.70 402.89,312.80C407.13,314.80 407.24,314.56 411.56,316.40C415.92,318.26 415.88,318.34 420.24,320.20C424.55,322.04 424.54,322.09 428.91,323.80C433.21,325.49 433.28,325.31 437.58,327.00C441.95,328.71 441.93,328.76 446.25,330.60C450.61,332.46 450.54,332.63 454.92,334.40C459.21,336.13 459.22,336.13 463.60,337.60C467.89,339.03 467.85,339.28 472.27,340.20C476.53,341.08 476.66,341.20 480.94,341.20C485.33,341.20 485.36,340.37 489.61,339.00C494.04,337.57 493.89,337.12 498.29,335.60C502.56,334.12 502.62,334.30 506.96,333.00C511.29,331.70 511.29,331.70 515.63,330.40C519.97,329.10 520.04,329.30 524.30,327.80C528.71,326.25 528.71,326.22 532.97,324.30C537.39,322.32 537.51,322.48 541.65,320.00C546.18,317.28 545.89,316.81 550.32,313.90C554.56,311.11 554.49,310.93 558.99,308.60C563.16,306.44 563.38,306.88 567.66,304.94C572.05,302.95 572.01,302.87 576.34,300.75C580.69,298.61 580.47,297.99 585.01,296.41C589.14,294.97 589.38,295.70 593.68,294.71C598.05,293.70 598.00,293.49 602.35,292.41C606.67,291.34 606.70,291.44 611.03,290.41C615.37,289.38 615.41,289.51 619.70,288.29C624.08,287.05 624.12,287.11 628.37,285.50C632.79,283.82 632.65,283.47 637.04,281.71C641.33,279.99 641.32,279.93 645.71,278.53C649.99,277.18 650.02,277.24 654.39,276.21C658.69,275.20 658.69,275.13 663.06,274.46C667.36,273.80 667.41,273.55 671.73,273.55C676.08,273.55 676.05,274.42 680.40,274.89C684.72,275.36 684.74,275.16 689.08,275.41C693.41,275.66 693.44,275.90 697.75,275.90C702.11,275.90 702.08,275.15 706.42,274.38C710.76,273.62 710.76,273.61 715.09,272.85C719.43,272.09 719.41,271.97 723.76,271.35C728.08,270.74 728.11,270.94 732.44,270.40C736.78,269.85 736.76,269.63 741.11,269.19C745.43,268.74 745.46,269.03 749.78,268.61C754.13,268.17 754.13,268.11 758.45,267.47C762.80,266.82 762.76,266.02 767.13,266.02C771.43,266.02 771.46,266.08 775.80,266.17C780.13,266.26 780.13,266.40 784.47,266.40C788.81,266.40 788.81,266.40 793.14,266.27C797.48,266.14 797.48,266.00 801.82,265.86C806.15,265.72 806.15,265.79 810.49,265.72C814.82,265.65 814.84,265.72 819.16,265.58C823.51,265.45 823.48,264.81 827.83,264.42C832.15,264.04 832.17,264.12 836.50,264.04C840.84,263.97 840.86,264.04 845.18,263.97C849.53,263.89 849.51,263.46 853.85,262.94C858.19,262.41 858.17,262.03 862.52,261.87C866.84,261.70 866.87,261.87 871.19,261.70C875.54,261.54 875.54,261.29 879.87,260.66C884.22,260.04 884.20,259.94 888.54,259.20C892.88,258.46 892.89,258.51 897.21,257.70C901.56,256.88 901.55,256.80 905.88,255.93C910.22,255.05 910.19,254.89 914.55,254.18C918.86,253.47 918.88,253.09 923.23,253.09C927.55,253.09 927.56,253.51 931.90,253.51C936.23,253.51 936.23,253.18 940.57,253.18C944.91,253.18 944.91,253.27 949.24,253.45C953.58,253.63 953.58,253.70 957.92,253.91C962.25,254.13 962.25,254.13 966.59,254.32C970.92,254.51 970.93,254.47 975.26,254.67C979.60,254.87 979.67,254.67 983.93,255.11C988.34,255.56 988.33,256.06 992.61,257.39C997.00,258.76 996.97,258.88 1001.28,260.51C1005.64,262.17 1005.58,262.33 1009.95,263.96C1014.25,265.57 1014.25,265.58 1018.62,267.00C1022.93,268.40 1022.91,268.47 1027.29,269.59C1031.59,270.70 1031.64,270.50 1035.97,271.46C1040.31,272.41 1040.41,272.08 1044.64,273.42C1049.09,274.82 1048.95,275.24 1053.31,276.94C1057.62,278.62 1057.60,278.71 1061.98,280.16C1066.27,281.58 1066.31,281.47 1070.66,282.68C1074.98,283.88 1074.96,283.97 1079.33,284.98C1083.63,285.98 1088.00,286.70 1088.00,286.70" fill="none" stroke="#0a7077" stroke-opacity="0.7" stroke-width="2.6" stroke-linejoin="round"/>
<rect x="56.000" y="540.400" width="1032.700" height="1.333" fill="#6e7079"/>
<rect x="56.000" y="540.000" width="1.333" height="7.333" fill="#6e7079"/>
<text x="56.00" y="563.8" text-anchor="middle" class="ax" textLength="75.5" lengthAdjust="spacingAndGlyphs">20231025</text>
<rect x="185.333" y="540.000" width="1.333" height="7.333" fill="#6e7079"/>
<text x="186.08" y="563.8" text-anchor="middle" class="ax" textLength="75.5" lengthAdjust="spacingAndGlyphs">20231115</text>
<rect x="316.000" y="540.000" width="1.333" height="7.333" fill="#6e7079"/>
<text x="316.17" y="563.8" text-anchor="middle" class="ax" textLength="75.5" lengthAdjust="spacingAndGlyphs">20231206</text>
<rect x="445.333" y="540.000" width="1.333" height="7.333" fill="#6e7079"/>
<text x="446.25" y="563.8" text-anchor="middle" class="ax" textLength="75.5" lengthAdjust="spacingAndGlyphs">20231227</text>
<rect x="576.000" y="540.000" width="1.333" height="7.333" fill="#6e7079"/>
<text x="576.34" y="563.8" text-anchor="middle" class="ax" textLength="75.5" lengthAdjust="spacingAndGlyphs">20240118</text>
<rect x="706.667" y="540.000" width="1.333" height="7.333" fill="#6e7079"/>
<text x="706.42" y="563.8" text-anchor="middle" class="ax" textLength="75.5" lengthAdjust="spacingAndGlyphs">20240208</text>
<rect x="836.000" y="540.000" width="1.333" height="7.333" fill="#6e7079"/>
<text x="836.50" y="563.8" text-anchor="middle" class="ax" textLength="75.5" lengthAdjust="spacingAndGlyphs">20240308</text>
<rect x="966.667" y="540.000" width="1.333" height="7.333" fill="#6e7079"/>
<text x="966.59" y="563.8" text-anchor="middle" class="ax" textLength="75.5" lengthAdjust="spacingAndGlyphs">20240329</text>
<rect x="1088.000" y="540.000" width="1.333" height="7.333" fill="#6e7079"/>
<text x="1088.00" y="563.8" text-anchor="middle" class="ax" textLength="75.5" lengthAdjust="spacingAndGlyphs">20240422</text>
<text x="45.2" y="544.10" text-anchor="end" class="ax" textLength="9" lengthAdjust="spacingAndGlyphs">6</text>
<text x="45.2" y="478.39" text-anchor="end" class="ax" textLength="22" lengthAdjust="spacingAndGlyphs">6.3</text>
<text x="45.2" y="412.67" text-anchor="end" class="ax" textLength="22" lengthAdjust="spacingAndGlyphs">6.6</text>
<text x="45.2" y="346.96" text-anchor="end" class="ax" textLength="22" lengthAdjust="spacingAndGlyphs">6.9</text>
<text x="45.2" y="281.24" text-anchor="end" class="ax" textLength="22" lengthAdjust="spacingAndGlyphs">7.2</text>
<text x="45.2" y="215.53" text-anchor="end" class="ax" textLength="22" lengthAdjust="spacingAndGlyphs">7.5</text>
<text x="45.2" y="149.81" text-anchor="end" class="ax" textLength="22" lengthAdjust="spacingAndGlyphs">7.8</text>
<text x="45.2" y="84.10" text-anchor="end" class="ax" textLength="22" lengthAdjust="spacingAndGlyphs">8.1</text>
<line x1="378.8" y1="625" x2="412.1" y2="625" stroke="#3c1196" stroke-opacity="0.7" stroke-width="2.7"/>
<circle cx="395.45" cy="625" r="7.5" fill="#fff" stroke="#3c1196" stroke-width="2.6"/>
<text x="419.1" y="630.3" class="lg" textLength="36" lengthAdjust="spacingAndGlyphs">MA5</text>
<line x1="469.8" y1="625" x2="503.1" y2="625" stroke="#d86c0b" stroke-opacity="0.7" stroke-width="2.7"/>
<circle cx="486.45" cy="625" r="7.5" fill="#fff" stroke="#d86c0b" stroke-width="2.6"/>
<text x="510.1" y="630.3" class="lg" textLength="46" lengthAdjust="spacingAndGlyphs">MA10</text>
<line x1="570.4" y1="625" x2="603.7" y2="625" stroke="#c61b84" stroke-opacity="0.7" stroke-width="2.7"/>
<circle cx="587.05" cy="625" r="7.5" fill="#fff" stroke="#c61b84" stroke-width="2.6"/>
<text x="610.7" y="630.3" class="lg" textLength="46" lengthAdjust="spacingAndGlyphs">MA30</text>
<line x1="670.5" y1="625" x2="703.8" y2="625" stroke="#0a7077" stroke-opacity="0.7" stroke-width="2.7"/>
<circle cx="687.15" cy="625" r="7.5" fill="#fff" stroke="#0a7077" stroke-width="2.6"/>
<text x="710.8" y="630.3" class="lg" textLength="46" lengthAdjust="spacingAndGlyphs">MA60</text>
<text x="502" y="30.2" class="tc" textLength="96" lengthAdjust="spacingAndGlyphs">新澳股份</text>
<text x="605" y="30.2" class="td" textLength="78" lengthAdjust="spacingAndGlyphs">603889</text>
<rect x="704" y="12.3" width="1" height="16.7" fill="#dddddd"/>
<text x="726" y="30.2" class="tc">日</text>
<text x="749.5" y="30.2" class="td">K</text>
<text x="480" y="683" class="ft" textLength="73" lengthAdjust="spacingAndGlyphs">数据来源</text>
<text x="555.5" y="683" class="ft">：</text>
<text x="578.8" y="683" class="ft" textLength="74.5" lengthAdjust="spacingAndGlyphs">恒生聚源</text>
</svg>
</body></html>
